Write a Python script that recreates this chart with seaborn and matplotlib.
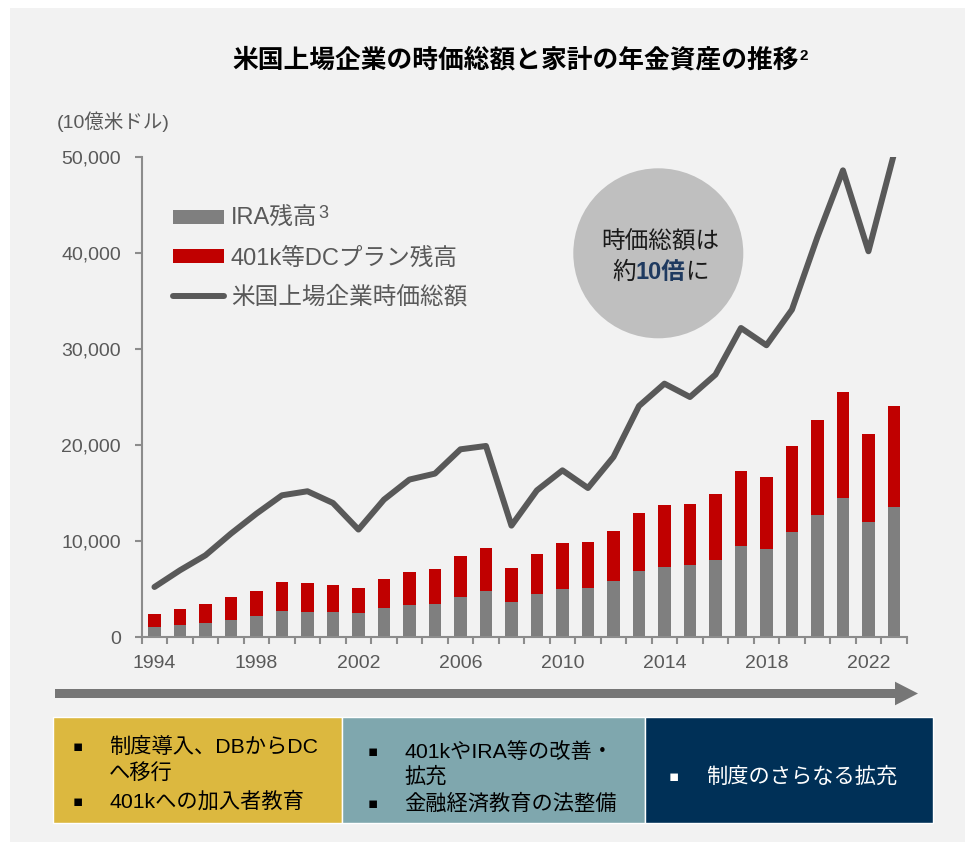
import matplotlib
matplotlib.use("Agg")
import matplotlib.pyplot as plt
import seaborn as sns
import pandas as pd
from matplotlib.patches import Rectangle, Ellipse, Polygon, Patch
from matplotlib.lines import Line2D
from matplotlib.ticker import FuncFormatter, MultipleLocator

plt.rcParams['font.family'] = ['Liberation Sans', 'Noto Sans CJK JP', 'DejaVu Sans']

# data (10億米ドル)
years = list(range(1994, 2024))
ira = [1040, 1290, 1460, 1740, 2160, 2710, 2610, 2610, 2500, 2990,
       3300, 3400, 4200, 4760, 3670, 4450, 4970, 5140, 5800, 6840,
       7290, 7470, 7990, 9450, 9140, 10940, 12680, 14450, 11950, 13540]
dc = [1390, 1660, 1980, 2400, 2670, 3020, 2980, 2770, 2570, 3090,
      3440, 3720, 4270, 4550, 3560, 4230, 4790, 4720, 5210, 6080,
      6460, 6420, 6910, 7880, 7530, 8920, 9930, 11110, 9160, 10520]
market_cap = [5210, 6950, 8510, 10770, 12850, 14760, 15180, 13960, 11190, 14310,
              16400, 17020, 19550, 19900, 11600, 15280, 17360, 15520, 18750, 24060,
              26390, 25000, 27330, 32190, 30390, 34100, 41670, 48610, 40180, 50300]
year_labels = [1994, 1998, 2002, 2006, 2010, 2014, 2018, 2022]

legend_labels = ['IRA残高', '401k等DCプラン残高', '米国上場企業時価総額']
stages = [
    ['制度導入、DBからDC\nへ移行', '401kへの加入者教育'],
    ['401kやIRA等の改善・\n拡充', '金融経済教育の法整備'],
    ['制度のさらなる拡充'],
]

df = pd.DataFrame({'year': years, 'ira': ira, 'dc': dc, 'cap': market_cap})
df['total'] = df['ira'] + df['dc']

GRAY_BAR = '#7F7F7F'
RED = '#C00000'
LINE = '#595959'
TXT = '#595959'
AXC = '#8C8C8C'

W, H = 965, 842
fig = plt.figure(figsize=(W / 100, H / 100), dpi=100, facecolor='white')


def px(x, y):
    return (x / W, 1 - y / H)


# gray panel
fig.patches.append(Rectangle(px(10, H), (W - 10) / W, (H - 8) / H,
                             transform=fig.transFigure, facecolor='#F2F2F2',
                             edgecolor='none', zorder=-5))

ax = fig.add_axes([141.7 / W, (H - 637) / H, (906.7 - 141.7) / W, 480 / H])
ax.patch.set_alpha(0)

sns.barplot(data=df, x='year', y='total', native_scale=True, width=0.5,
            color=RED, saturation=1, errorbar=None, linewidth=0, ax=ax)
sns.barplot(data=df, x='year', y='ira', native_scale=True, width=0.5,
            color=GRAY_BAR, saturation=1, errorbar=None, linewidth=0, ax=ax)
sns.lineplot(data=df, x='year', y='cap', color=LINE, linewidth=4.3,
             solid_capstyle='round', ax=ax)

ax.set_xlim(1993.5, 2023.5)
ax.set_ylim(0, 50000)
ax.set_xlabel('')
ax.set_ylabel('')
ax.set_xticks(year_labels)
ax.set_xticklabels([str(y) for y in year_labels])
ax.xaxis.set_minor_locator(MultipleLocator(1, offset=0.5))
ax.set_yticks(range(0, 50001, 10000))
ax.yaxis.set_major_formatter(FuncFormatter(lambda v, p: f'{int(v):,}'))
ax.tick_params(axis='x', which='major', length=0, pad=13, labelsize=14, labelcolor=TXT)
ax.tick_params(axis='x', which='minor', length=5, width=1.5, color=AXC)
ax.tick_params(axis='y', length=5, width=1.5, color=AXC, pad=10, labelsize=14, labelcolor=TXT)
for s in ['top', 'right']:
    ax.spines[s].set_visible(False)
for s in ['left', 'bottom']:
    ax.spines[s].set_color(AXC)
    ax.spines[s].set_linewidth(1.5)

r = fig.canvas.get_renderer()

# title and unit
title = fig.text(*px(516, 60), '米国上場企業の時価総額と家計の年金資産の推移', ha='center',
                 va='center', fontsize=18.5, weight='bold', color='black')
tb = title.get_window_extent(r)
fig.text((tb.x1 + 0.5) / W, tb.y1 / H - 0.002, '2', ha='left', va='top',
         fontsize=11, weight='bold', color='black')
fig.text(*px(57, 122), '(10億米ドル)', ha='left', va='center', fontsize=14, color=TXT)

# legend
handles = [Patch(facecolor=GRAY_BAR, edgecolor='none'),
           Patch(facecolor=RED, edgecolor='none'),
           Line2D([], [], color=LINE, linewidth=4.3, solid_capstyle='round')]
leg = fig.legend(handles, legend_labels, loc='upper left', bbox_to_anchor=px(173, 208),
                 frameon=False, fontsize=17, handlelength=2.15, handleheight=0.55,
                 handletextpad=0.3, labelspacing=0.72, borderpad=0, borderaxespad=0,
                 labelcolor=TXT)
fig.canvas.draw()
lb = leg.get_texts()[0].get_window_extent(r)
fig.text((lb.x1 + 0.5) / W, lb.y1 / H + 0.004, '3', ha='left', va='top',
         fontsize=13, color=TXT)

# circle callout
fig.patches.append(Ellipse(px(658.3, 253.3), 170 / W, 170 / H, transform=fig.transFigure,
                           facecolor='#BFBFBF', edgecolor='none', zorder=2))
fig.text(*px(660, 249), '時価総額は', ha='center', va='baseline', fontsize=17,
         color='#1A1A1A', zorder=3)
mid = fig.text(*px(660.5, 279), '10倍', ha='center', va='baseline', fontsize=17,
               weight='bold', color='#1F3A60', zorder=3)
bb = mid.get_window_extent(r)
fig.text(bb.x0 / W, 1 - 279 / H, '約', ha='right', va='baseline', fontsize=17,
         color='#1A1A1A', zorder=3)
fig.text(bb.x1 / W, 1 - 279 / H, 'に', ha='left', va='baseline', fontsize=17,
         color='#1A1A1A', zorder=3)

# timeline arrow
arrow_pts = [(55, 689), (895, 689), (895, 681.7), (918, 693.5),
             (895, 705.3), (895, 698), (55, 698)]
fig.patches.append(Polygon([px(x, y) for x, y in arrow_pts], closed=True,
                           transform=fig.transFigure, facecolor='#767676',
                           edgecolor='none', zorder=2))

# stage boxes
boxes = [(52.7, 342, '#DCB83F', 'black'),
         (342, 644.5, '#7FA7AE', 'black'),
         (644.5, 932.5, '#003057', 'white')]
for x0, x1, fc, _ in boxes:
    fig.patches.append(Rectangle(px(x0, 822.7), (x1 - x0) / W, (822.7 - 717.3) / H,
                                 transform=fig.transFigure, facecolor=fc,
                                 edgecolor='white', linewidth=1, zorder=2))

text_rows = [
    [(77.7, 109, 746.7, 773), (77.7, 109, 801, None)],
    [(373, 404.5, 751.7, 776.7), (373, 404.5, 803.3, None)],
    [(674, 706, 776.7, None)],
]
for (x0, x1, fc, tc), items, rows in zip(boxes, stages, text_rows):
    for item, (bx, tx, y1, y2) in zip(items, rows):
        lines = item.split('\n')
        fig.text(*px(bx, y1), '▪', ha='center', va='center', fontsize=11,
                 color=tc, family=['DejaVu Sans'], zorder=3)
        fig.text(*px(tx, y1), lines[0], ha='left', va='center', fontsize=15.3,
                 color=tc, zorder=3)
        if len(lines) > 1:
            fig.text(*px(tx, y2), lines[1], ha='left', va='center', fontsize=15.3,
                     color=tc, zorder=3)

fig.savefig('out.png', dpi=100, facecolor=fig.get_facecolor())
